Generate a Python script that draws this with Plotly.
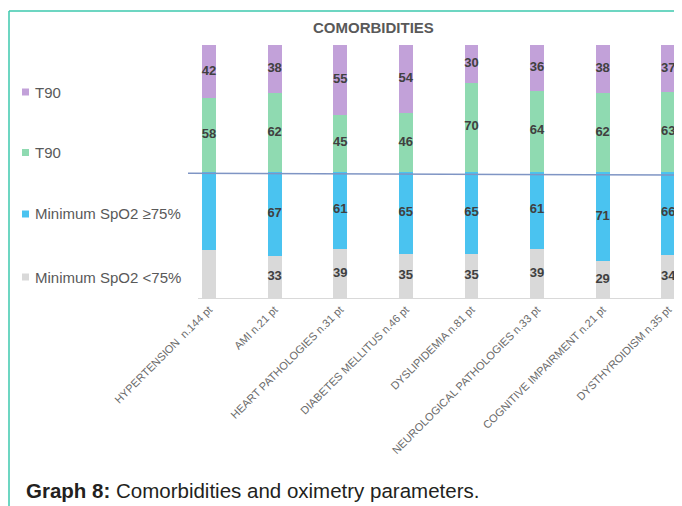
import plotly.graph_objects as go

categories = [
    "HYPERTENSION  n.144 pt",
    "AMI n.21 pt",
    "HEART PATHOLOGIES n.31 pt",
    "DIABETES MELLITUS n.46 pt",
    "DYSLIPIDEMIA n.81 pt",
    "NEUROLOGICAL PATHOLOGIES n.33 pt",
    "COGNITIVE IMPAIRMENT n.21 pt",
    "DYSTHYROIDISM n.35 pt",
]
spo2_low = [38, 33, 39, 35, 35, 39, 29, 34]      # Minimum SpO2 <75%
spo2_high = [62, 67, 61, 65, 65, 61, 71, 66]     # Minimum SpO2 >=75%
t90_green = [58, 62, 45, 46, 70, 64, 62, 63]     # T90 (green)
t90_purple = [42, 38, 55, 54, 30, 36, 38, 37]    # T90 (purple)
# the first bar shows no value labels on its lower two segments
low_labels = ["", "33", "39", "35", "35", "39", "29", "34"]
high_labels = ["", "67", "61", "65", "65", "61", "71", "66"]

series = [
    ("Minimum SpO2 <75%", spo2_low, low_labels, "#D9D9D9"),
    ("Minimum SpO2 ≥75%", spo2_high, high_labels, "#4AC3F0"),
    ("T90", t90_green, [str(v) for v in t90_green], "#8FDAB1"),
    ("T90", t90_purple, [str(v) for v in t90_purple], "#C2A1D9"),
]

OFF = 8                      # page body margin
W, H = 682 - OFF, 506 - OFF
L, R, T, B = 198 - OFF, 0, 45 - OFF, 208
PW, PH = W - L - R, H - T - B


def px(xp):
    return (xp - OFF - L) / PW


def py(yp):
    return (H - B - (yp - OFF)) / PH


fig = go.Figure()
base = [0] * len(categories)
for name, vals, labels, color in series:
    fig.add_trace(go.Bar(x=categories, y=vals, name=name, marker_color=color,
                         marker_line_width=0, width=0.21, showlegend=False,
                         hoverinfo="skip"))
    mids = [b + v / 2 for b, v in zip(base, vals)]
    fig.add_trace(go.Scatter(x=categories, y=mids, mode="text", text=labels,
                             textposition="middle center",
                             textfont=dict(family="Liberation Sans, Arial", size=13,
                                           color="#404040", weight="bold"),
                             showlegend=False, hoverinfo="skip"))
    base = [b + v for b, v in zip(base, vals)]

shapes = []
annotations = []

# frame
frame_col = "#3CC8AE"
shapes.append(dict(type="line", xref="paper", yref="paper", x0=px(9), x1=px(690),
                   y0=py(11), y1=py(11), line=dict(color=frame_col, width=1.5)))
shapes.append(dict(type="line", xref="paper", yref="paper", x0=px(9), x1=px(9),
                   y0=py(11), y1=py(510), line=dict(color=frame_col, width=1.5)))

# divider line
shapes.append(dict(type="line", xref="paper", yref="y", x0=px(188), x1=px(677),
                   y0=98.6, y1=97.2, line=dict(color="#7F95C4", width=1.5)))

# manual legend (top to bottom)
legend_items = [
    ("T90", "#C2A1D9", 92),
    ("T90", "#8FDAB1", 152.5),
    ("Minimum SpO2 ≥75%", "#4AC3F0", 214),
    ("Minimum SpO2 <75%", "#D9D9D9", 277),
]
for text, col, yc in legend_items:
    shapes.append(dict(type="rect", xref="paper", yref="paper",
                       x0=px(22), x1=px(29), y0=py(yc - 3.5), y1=py(yc + 3.5),
                       fillcolor=col, line=dict(width=0)))
    annotations.append(dict(xref="paper", yref="paper", x=px(33), y=py(yc),
                            xanchor="left", yanchor="middle", showarrow=False,
                            text=text,
                            font=dict(family="Liberation Sans, Arial", size=15,
                                      color="#595959")))

# chart title
annotations.append(dict(xref="paper", yref="paper", x=px(373), y=py(28),
                        xanchor="center", yanchor="middle", showarrow=False,
                        text="<b>COMORBIDITIES</b>",
                        font=dict(family="Liberation Sans, Arial", size=15,
                                  color="#595959")))

# caption
annotations.append(dict(xref="paper", yref="paper", x=px(24), y=py(490),
                        xanchor="left", yanchor="middle", showarrow=False,
                        text="<b>Graph 8:</b> Comorbidities and oximetry parameters.",
                        font=dict(family="Liberation Sans, Arial", size=20.5,
                                  color="#231F20")))

fig.update_layout(
    width=W, height=H,
    margin=dict(l=L, r=R, t=T, b=B, pad=0),
    barmode="stack",
    plot_bgcolor="white", paper_bgcolor="white",
    showlegend=False,
    shapes=shapes, annotations=annotations,
    xaxis=dict(type="category", range=[-0.168, 7.21], tickangle=-45,
               showline=True, linecolor="#D9D9D9", linewidth=1,
               showgrid=False, ticks="", zeroline=False,
               tickfont=dict(family="Liberation Sans, Arial", size=11, color="#6A6A6A")),
    yaxis=dict(range=[0, 200], visible=False, showgrid=False, zeroline=False),
)

fig.write_html("out.html")
